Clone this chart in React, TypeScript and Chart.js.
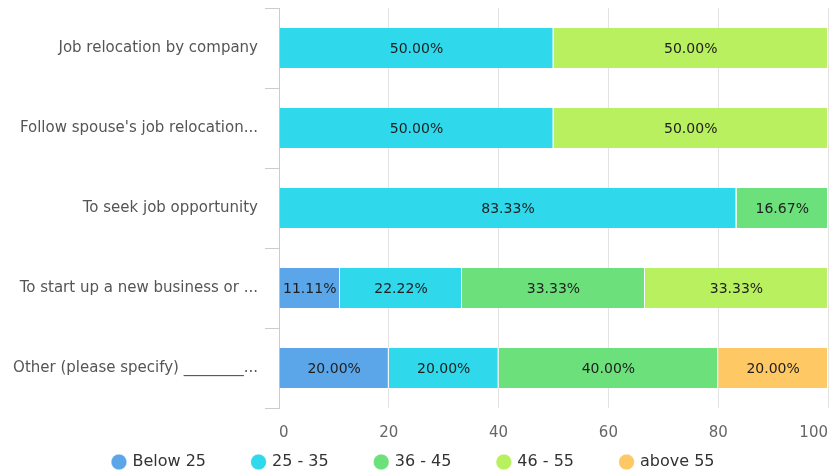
import React, { useEffect, useRef } from "react";
import { Chart, registerables } from "chart.js";

Chart.register(...registerables);

const categories = [
  "Job relocation by company",
  "Follow spouse's job relocation...",
  "To seek job opportunity",
  "To start up a new business or ...",
  "Other (please specify) ________...",
];

const seriesNames = ["Below 25", "25 - 35", "36 - 45", "46 - 55", "above 55"];
const below25 = [0, 0, 0, 11.11, 20];
const age25to35 = [50, 50, 83.33, 22.22, 20];
const age36to45 = [0, 0, 16.67, 33.33, 40];
const age46to55 = [50, 50, 0, 33.33, 0];
const above55 = [0, 0, 0, 0, 20];
const seriesValues = [below25, age25to35, age36to45, age46to55, above55];
const seriesColors = ["#5ba6e8", "#2fd8eb", "#6ce07b", "#b9f05f", "#fec865"];
const xTicks = [0, 20, 40, 60, 80, 100];

const FONT = "'DejaVu Sans', Verdana, sans-serif";

const dataLabels = {
  id: "dataLabels",
  afterDatasetsDraw(chart: any) {
    const ctx = chart.ctx;
    ctx.save();
    ctx.font = `14px ${FONT}`;
    ctx.fillStyle = "#1e1e1e";
    ctx.textAlign = "center";
    ctx.textBaseline = "middle";
    chart.data.datasets.forEach((ds: any, di: number) => {
      const meta = chart.getDatasetMeta(di);
      meta.data.forEach((el: any, i: number) => {
        const v = ds.data[i];
        if (!v) return;
        const p = el.getCenterPoint();
        ctx.fillText(`${v.toFixed(2)}%`, p.x, p.y + 1);
      });
    });
    ctx.restore();
  },
};

const LEG_H = 32;
const LEG_ROW_OFFSET = 14;

const legendFix = {
  id: "legendFix",
  beforeLayout(chart: any) {
    const lg = chart.legend;
    if (lg && !lg.__patched) {
      lg.__patched = true;
      const origFit = lg.fit;
      lg.fit = function () {
        origFit.call(this);
        this.height = LEG_H;
      };
      const origDraw = lg._draw;
      lg._draw = function () {
        const t = this.top;
        this.top = t - this.options.labels.padding + LEG_ROW_OFFSET;
        origDraw.call(this);
        this.top = t;
      };
    }
  },
};

export default function App() {
  const ref = useRef<HTMLCanvasElement | null>(null);
  useEffect(() => {
    document.body.style.margin = "0";
    if (!ref.current) return;
    const chart = new Chart(ref.current, {
      type: "bar",
      data: {
        labels: categories,
        datasets: seriesNames.map((name, i) => ({
          label: name,
          data: seriesValues[i],
          backgroundColor: seriesColors[i],
          borderColor: "#ffffff",
          borderWidth: { left: 0, right: 1, top: 0, bottom: 0 },
          borderSkipped: false,
          barPercentage: 0.5,
          categoryPercentage: 1,
        })),
      },
      options: {
        indexAxis: "y",
        responsive: false,
        animation: false,
        layout: { padding: { top: 8, left: 0, right: 1, bottom: 0 } },
        scales: {
          x: {
            stacked: true,
            min: 0,
            max: 100,
            afterBuildTicks(scale: any) {
              scale.ticks = xTicks.map((v) => ({ value: v }));
            },
            afterFit(scale: any) {
              scale.paddingLeft = 0;
              scale.paddingRight = 0;
              scale.height = 32;
            },
            grid: { color: "#e3e3e3", drawTicks: false },
            border: { display: false },
            ticks: {
              stepSize: 20,
              padding: 16,
              align: "inner",
              color: "#666",
              font: { size: 15, family: FONT },
            },
          },
          y: {
            stacked: true,
            afterFit(scale: any) {
              scale.width = 279;
              scale.paddingTop = 0;
              scale.paddingBottom = 0;
            },
            grid: {
              drawOnChartArea: false,
              drawTicks: true,
              tickLength: 14,
              color: "#cccccc",
              offset: true,
            },
            border: { display: true, color: "#cccccc" },
            ticks: {
              padding: 7,
              color: "#555",
              font: { size: 15, family: FONT },
            },
          },
        },
        plugins: {
          legend: {
            position: "bottom",
            labels: {
              usePointStyle: true,
              pointStyle: "circle",
              boxWidth: 11,
              boxHeight: 11,
              padding: 47,
              color: "#333",
              font: { size: 16, family: FONT },
            },
          },
          tooltip: { enabled: false },
        },
      },
      plugins: [dataLabels, legendFix],
    } as any);
    return () => chart.destroy();
  }, []);
  return (
    <div style={{ position: "absolute", left: 0, top: 0, width: 829, height: 472 }}>
      <canvas ref={ref} width={829} height={472} />
    </div>
  );
}
